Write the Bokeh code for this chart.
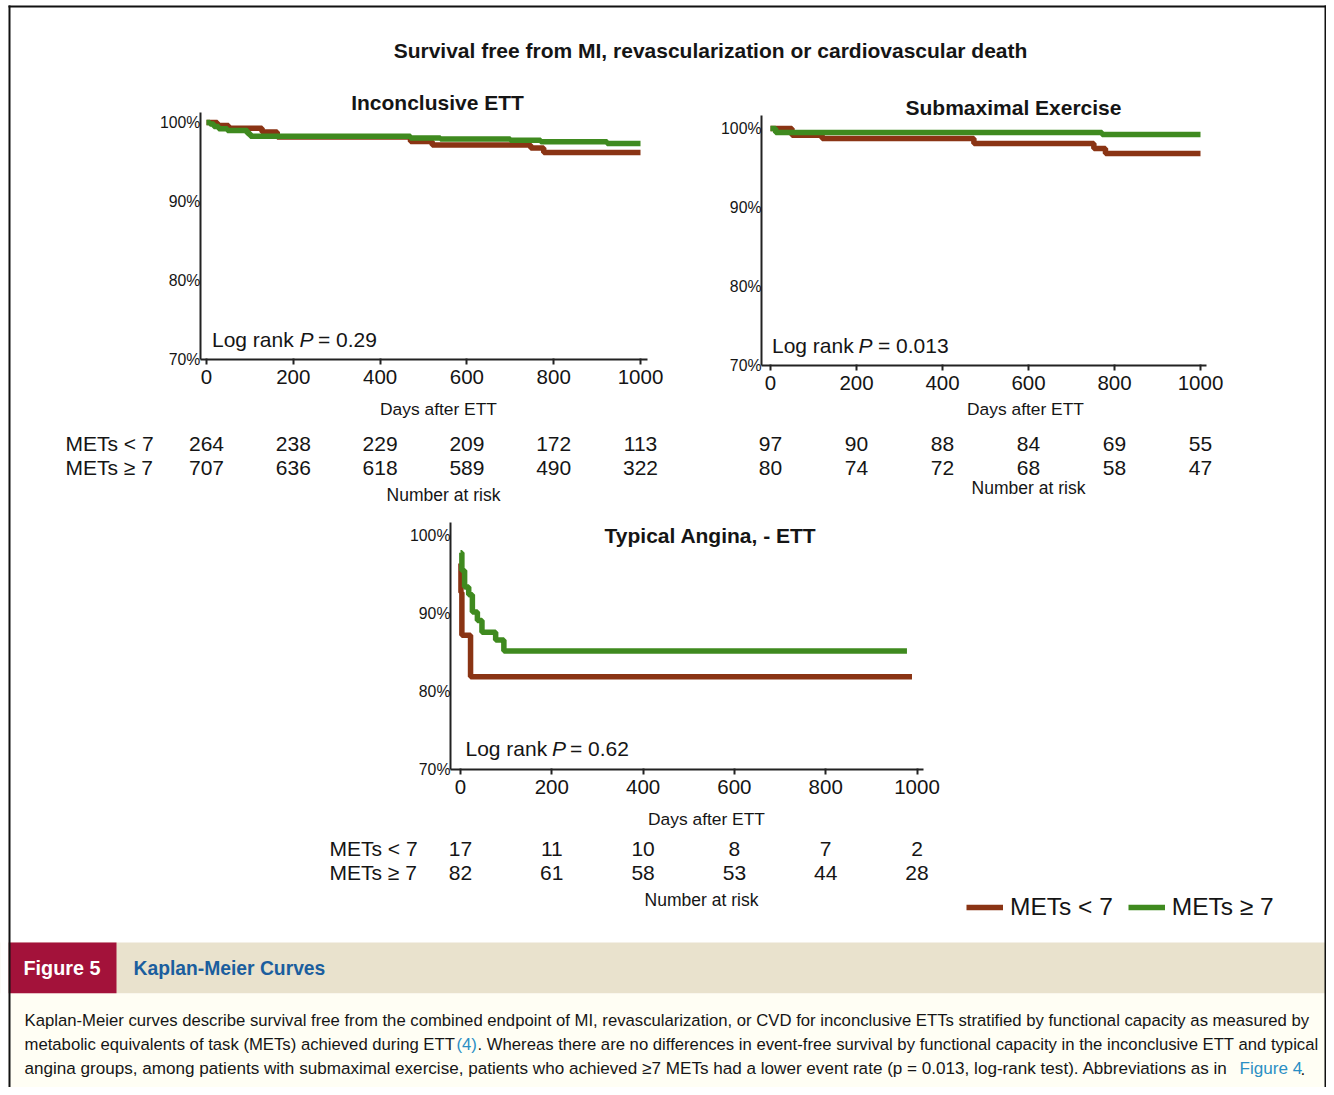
from bokeh.plotting import figure
from bokeh.models import (Range1d, LinearAxis, FixedTicker, PrintfTickFormatter,
                          BoxAnnotation, Legend, LegendItem)
from bokeh.core.properties import value
from bokeh.embed import file_html
from bokeh.resources import INLINE

# ---------------- data ----------------
risk_days = [0, 200, 400, 600, 800, 1000]
y_ticks = [70, 80, 90, 100]

# Inconclusive ETT
inc_lt7_days = [0, 25, 51, 128, 163, 470, 520, 747, 777, 1000]
inc_lt7_surv = [100, 99.62, 99.28, 98.81, 98.18, 97.58, 97.16, 96.78, 96.19, 96.19]
inc_ge7_days = [0, 8, 17, 28, 48, 94, 101, 470, 539, 700, 770, 923, 1000]
inc_ge7_surv = [100, 99.8, 99.5, 99.2, 99.0, 98.6, 98.26, 98.05, 97.9, 97.75, 97.55, 97.35, 97.35]
inc_risk_lt7 = [264, 238, 229, 209, 172, 113]
inc_risk_ge7 = [707, 636, 618, 589, 490, 322]

# Submaximal exercise
sub_lt7_days = [0, 50, 120, 473, 752, 779, 1000]
sub_lt7_surv = [100, 99.15, 98.73, 98.09, 97.46, 96.82, 96.82]
sub_ge7_days = [0, 12, 771, 1000]
sub_ge7_surv = [100, 99.5, 99.25, 99.25]
sub_risk_lt7 = [97, 90, 88, 84, 69, 55]
sub_risk_ge7 = [80, 74, 72, 68, 58, 47]

# Typical angina, - ETT
ang_lt7_days = [0, 1, 3, 22, 989]
ang_lt7_surv = [96.4, 92.7, 87.2, 81.9, 81.9]
ang_ge7_days = [0, 3, 9, 18, 26, 37, 47, 77, 95, 978]
ang_ge7_surv = [97.8, 95.5, 93.4, 92.4, 90.2, 89.1, 87.6, 86.6, 85.2, 85.2]
ang_risk_lt7 = [17, 11, 10, 8, 7, 2]
ang_risk_ge7 = [82, 61, 58, 53, 44, 28]

# ---------------- canvas ----------------
W, H = 1326, 1087
BROWN = "#8a3414"
GREEN = "#3f8a1f"
FONT = "Liberation Sans"
INK = "#151515"

p = figure(width=W, height=H, output_backend="svg", toolbar_location=None,
           x_range=Range1d(0, W), y_range=Range1d(H, 0),
           x_axis_location=None, y_axis_location=None, min_border=0)
p.grid.visible = False
p.outline_line_color = None
p.background_fill_color = "white"
p.border_fill_color = "white"


def xr(a, b, lo=0.0, hi=1000.0):
    k = (b - a) / (hi - lo)
    return Range1d(lo - a / k, lo + (W - a) / k)


def yr(c_hi, c_lo, v_hi=100.0, v_lo=70.0):
    k = (c_lo - c_hi) / (v_hi - v_lo)
    return Range1d(v_lo - (H - c_lo) / k, v_hi + c_hi / k)


panels = {
    "inc": dict(x=(206, 640), y=(122, 359), yax=-14, ytop=101.3),
    "sub": dict(x=(770, 1200), y=(128, 365), yax=-21, ytop=101.7),
    "ang": dict(x=(460, 916.5), y=(535, 769), yax=-22, ytop=101.7),
}
for k, d in panels.items():
    p.extra_x_ranges[k + "x"] = xr(*d["x"])
    p.extra_y_ranges[k + "y"] = yr(*d["y"])


def add_axes(k):
    d = panels[k]
    xa = LinearAxis(x_range_name=k + "x", y_range_name=k + "y", fixed_location=70,
                    bounds=(d["yax"], 1015), ticker=FixedTicker(ticks=risk_days, minor_ticks=[]))
    xa.axis_line_width = 2
    xa.axis_line_color = "#222222"
    xa.major_tick_line_width = 2
    xa.major_tick_line_color = "#222222"
    xa.major_tick_out = 5
    xa.major_tick_in = 1
    xa.minor_tick_line_color = None
    xa.major_label_standoff = 5
    xa.major_label_text_font = FONT
    xa.major_label_text_font_size = "20.5px"
    xa.major_label_text_color = INK
    p.add_layout(xa, "below")

    ya = LinearAxis(x_range_name=k + "x", y_range_name=k + "y", fixed_location=d["yax"],
                    bounds=(70, d["ytop"]), ticker=FixedTicker(ticks=y_ticks, minor_ticks=[]),
                    formatter=PrintfTickFormatter(format="%d%%"))
    ya.axis_line_width = 2
    ya.axis_line_color = "#222222"
    ya.major_tick_line_color = None
    ya.major_tick_out = 0
    ya.major_tick_in = 0
    ya.minor_tick_line_color = None
    ya.major_label_standoff = 0
    ya.major_label_text_font = FONT
    ya.major_label_text_font_size = "15.8px"
    ya.major_label_text_color = INK
    p.add_layout(ya, "left")


def txt(x, y, s, size, style="normal", align="left", color=INK, font=FONT, **kw):
    p.text(x=x if isinstance(x, list) else [x], y=y if isinstance(y, list) else [y],
           text=s if isinstance(s, list) else [s],
           text_font=value(font), text_font_size=f"{size}px", text_font_style=style,
           text_align=align, text_baseline="middle", text_color=color, **kw)


# ---------------- curves ----------------
curves = [
    ("inc", inc_lt7_days, inc_lt7_surv, BROWN),
    ("inc", inc_ge7_days, inc_ge7_surv, GREEN),
    ("sub", sub_lt7_days, sub_lt7_surv, BROWN),
    ("sub", sub_ge7_days, sub_ge7_surv, GREEN),
    ("ang", ang_lt7_days, ang_lt7_surv, BROWN),
    ("ang", ang_ge7_days, ang_ge7_surv, GREEN),
]
rend = []
for k, xs, ys, c in curves:
    r = p.step(xs, ys, mode="after", line_width=5.5, line_color=c,
               x_range_name=k + "x", y_range_name=k + "y")
    rend.append(r)

for k in panels:
    add_axes(k)

# ---------------- titles ----------------
txt(710, 50, "Survival free from MI, revascularization or cardiovascular death", 21, "bold", "center")
txt(437, 102, "Inconclusive ETT", 21, "bold", "center")
txt(1013, 107, "Submaximal Exercise", 21, "bold", "center")
txt(710, 535, "Typical Angina, - ETT", 21, "bold", "center")

# log-rank annotations
for (x1, x2, x3, yy, pv) in [(211.5, 299, 317.5, 338.5, "= 0.29"),
                             (771.5, 858, 877.5, 345, "= 0.013"),
                             (465, 551.5, 569.5, 748.3, "= 0.62")]:
    txt(x1, yy, "Log rank", 21)
    txt(x2, yy, "P", 21, "italic")
    txt(x3, yy, pv, 21)

# axis titles
txt(438, 408, "Days after ETT", 17.4, align="center")
txt(1025, 408, "Days after ETT", 17.4, align="center")
txt(706, 818, "Days after ETT", 17.4, align="center")

# ---------------- number at risk ----------------
def risk_rows(k, lt7, ge7, y1, y2):
    txt(risk_days, [y1] * len(risk_days), [str(v) for v in lt7], 21, align="center", x_range_name=k + "x")
    txt(risk_days, [y2] * len(risk_days), [str(v) for v in ge7], 21, align="center", x_range_name=k + "x")


risk_rows("inc", inc_risk_lt7, inc_risk_ge7, 443, 467)
risk_rows("sub", sub_risk_lt7, sub_risk_ge7, 443, 467)
risk_rows("ang", ang_risk_lt7, ang_risk_ge7, 848, 872)

txt(65, 443, "METs < 7", 21)
txt(65, 467, "METs \u2265 7", 21)
txt(329, 848, "METs < 7", 21)
txt(329, 872, "METs \u2265 7", 21)
txt(443, 494, "Number at risk", 17.5, align="center")
txt(1028, 487, "Number at risk", 17.5, align="center")
txt(701, 899, "Number at risk", 17.5, align="center")

# ---------------- legend ----------------
legend = Legend(items=[LegendItem(label="METs < 7", renderers=[rend[0]]),
                       LegendItem(label="METs \u2265 7", renderers=[rend[1]])],
                orientation="horizontal", location=(966, 166),
                glyph_width=37, glyph_height=20, label_standoff=7, spacing=15,
                padding=0, margin=0, border_line_color=None, background_fill_alpha=0,
                label_text_font=FONT, label_text_font_size="24.5px", label_text_color=INK)
p.add_layout(legend)

# ---------------- caption area & frame ----------------
def box(l, r, t, b, c, level="underlay"):
    p.add_layout(BoxAnnotation(left=l, right=r, top=t, bottom=b, fill_color=c,
                               fill_alpha=1, line_color=None, level=level))


box(0, W, 942, 993, "#e9e2cd")
box(8, 116, 942, 993, "#a3123a")
box(0, W, 993, H, "#fffef4")
box(0, 8, 0, H, "white")
box(0, W, 0, 5, "white")
# frame border
box(8, 10, 5, H, "#111111", "overlay")
box(8, W, 5, 7, "#111111", "overlay")
box(W - 2, W, 5, H, "#111111", "overlay")

txt(23, 967.5, "Figure 5", 19.8, "bold", color="white")
txt(133, 967.5, "Kaplan-Meier Curves", 19.3, "bold", color="#1b5e9e")

CAP = 16.7
BLUE = "#2a8fc4"
txt(24, 1020, "Kaplan-Meier curves describe survival free from the combined endpoint of MI, "
              "revascularization, or CVD for inconclusive ETTs stratified by functional capacity as measured by", CAP)
txt(24, 1044, "metabolic equivalents of task (METs) achieved during ETT", CAP)
txt(456, 1044, "(4)", CAP, color=BLUE)
txt(477, 1044, ". Whereas there are no differences in event-free survival by functional capacity "
               "in the inconclusive ETT and typical", CAP)
txt(24, 1068, "angina groups, among patients with submaximal exercise, patients who achieved \u22657 METs "
              "had a lower event rate (p = 0.013, log-rank test). Abbreviations as in", 17.1)
txt(1239, 1068, "Figure 4", 17.1, color=BLUE)
txt(1300, 1068, ".", 17.1)

open("out.html", "w").write(file_html(p, INLINE))
